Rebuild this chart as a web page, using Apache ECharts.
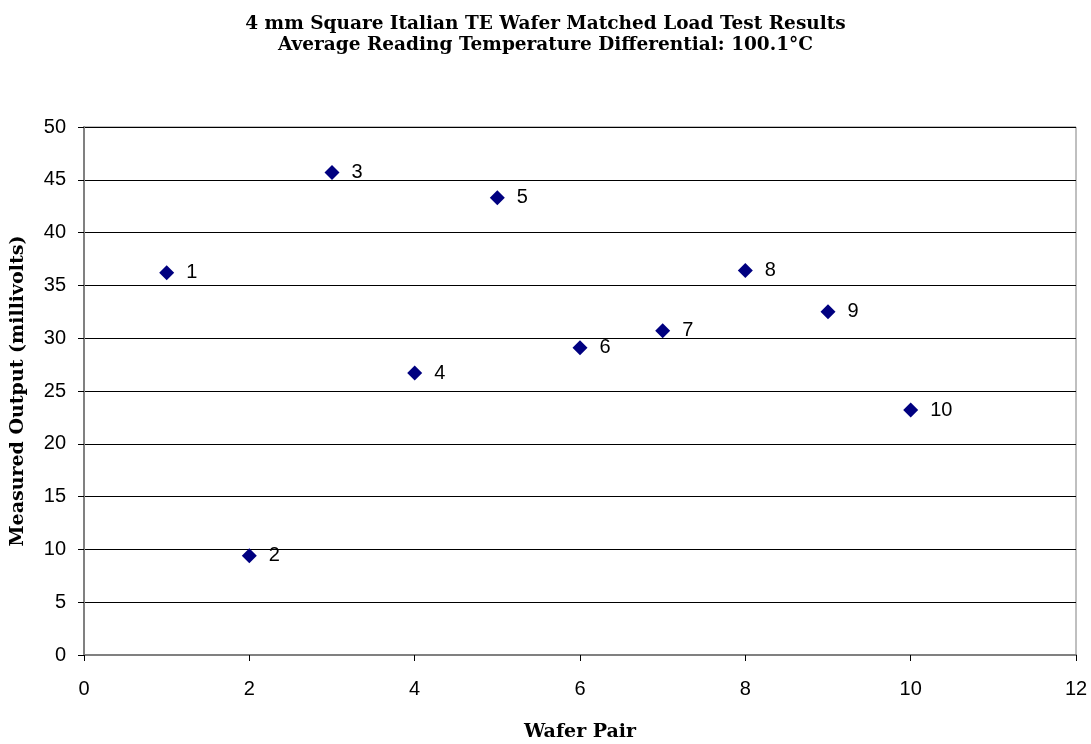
<!DOCTYPE html>
<html>
<head>
<meta charset="utf-8">
<script src="https://cdn.jsdelivr.net/npm/echarts@6/dist/echarts.min.js"></script>
<style>
  html, body { margin: 0; padding: 0; background: #fff; }
  #chart { width: 1091px; height: 744px; }
</style>
</head>
<body>
<div id="chart"></div>
<script>
// wafer pair number and measured output (millivolts)
const waferPairs = [1, 2, 3, 4, 5, 6, 7, 8, 9, 10];
const outputs = [36.2, 9.4, 45.7, 26.7, 43.3, 29.1, 30.7, 36.4, 32.5, 23.2];
const titleLines = [
    '4 mm Square Italian TE Wafer Matched Load Test Results',
    'Average Reading Temperature Differential: 100.1°C'
];

let chartElement = document.getElementById('chart');
let chart = echarts.init(chartElement);

let points = waferPairs.map((p, i) => [p, outputs[i]]);

let serifBold = {
    fontFamily: 'DejaVu Serif',
    fontWeight: 'bold',
    color: '#000'
};

let option = {
    animation: false,
    title: {
        text: titleLines.join('\n'),
        left: 'center',
        top: 9,
        textStyle: Object.assign({ fontSize: 18.5, lineHeight: 21 }, serifBold)
    },
    grid: {
        left: 84,
        right: 15,
        top: 127,
        bottom: 89,
        show: true,
        borderColor: '#808080',
        borderWidth: 1,
        containLabel: false,
        outerBoundsMode: 'none'
    },
    xAxis: {
        type: 'value',
        min: 0,
        max: 12,
        interval: 2,
        name: 'Wafer Pair',
        nameLocation: 'middle',
        nameGap: 68,
        nameTextStyle: Object.assign({ fontSize: 19 }, serifBold),
        axisLine: { show: true, lineStyle: { color: '#808080', width: 2 } },
        axisTick: { show: true, length: 6, lineStyle: { color: '#000' } },
        axisLabel: {
            fontFamily: 'Liberation Sans',
            fontSize: 20,
            color: '#000',
            margin: 24
        },
        splitLine: { show: false }
    },
    yAxis: {
        type: 'value',
        min: 0,
        max: 50,
        interval: 5,
        name: 'Measured Output (millivolts)',
        nameLocation: 'middle',
        nameGap: 56,
        nameTextStyle: Object.assign({ fontSize: 19 }, serifBold),
        axisLine: { show: true, lineStyle: { color: '#808080', width: 2 } },
        axisTick: { show: true, length: 6, lineStyle: { color: '#000' } },
        axisLabel: {
            fontFamily: 'Liberation Sans',
            fontSize: 20,
            color: '#000',
            margin: 18
        },
        splitLine: { show: true, lineStyle: { color: '#000', width: 1 } }
    },
    series: [
        {
            name: 'Output',
            type: 'scatter',
            symbol: 'diamond',
            symbolSize: 15,
            itemStyle: { color: '#000080', opacity: 1 },
            label: {
                show: true,
                position: 'right',
                distance: 12,
                formatter: (p) => String(p.value[0]),
                fontFamily: 'Liberation Sans',
                fontSize: 20,
                color: '#000',
                textBorderWidth: 0
            },
            emphasis: { disabled: true },
            data: points
        }
    ]
};

chart.setOption(option);
</script>
</body>
</html>
